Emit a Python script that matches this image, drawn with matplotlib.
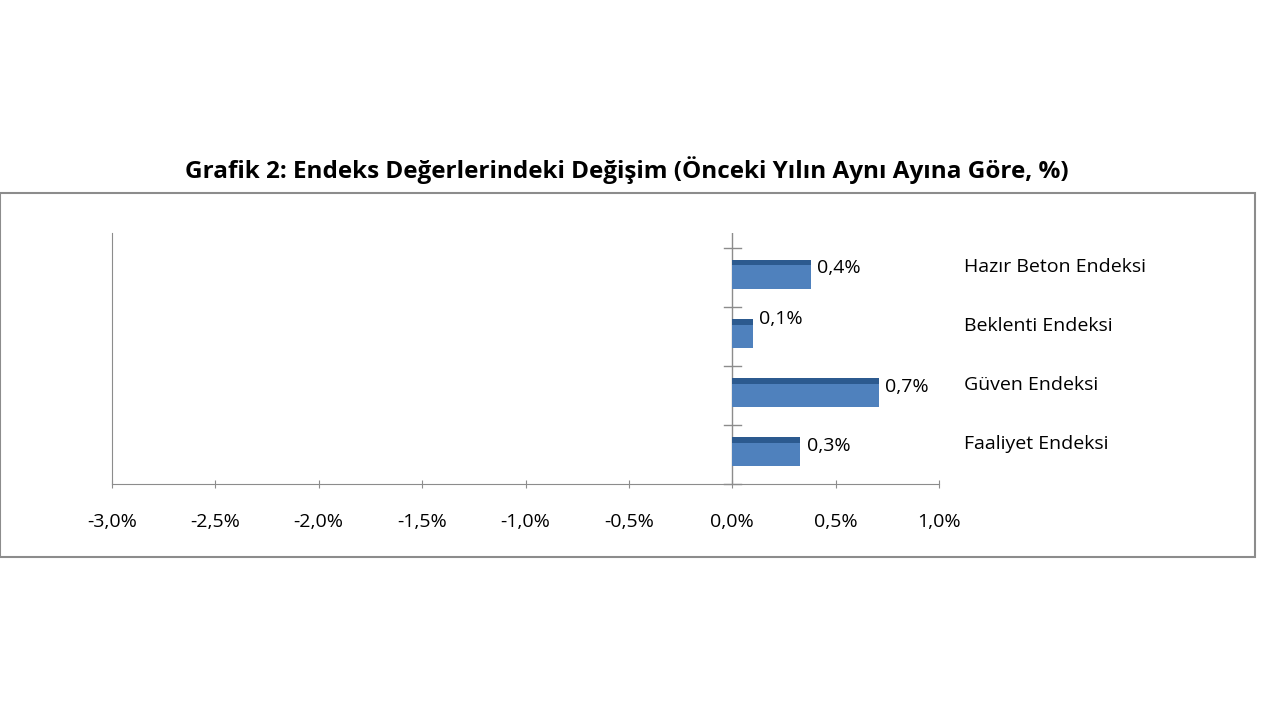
import matplotlib
matplotlib.use("Agg")
import matplotlib.pyplot as plt
from matplotlib.patches import Rectangle

categories = ["Faaliyet Endeksi", "Güven Endeksi", "Beklenti Endeksi", "Hazır Beton Endeksi"]
values = [0.33, 0.71, 0.10, 0.38]
labels = ["0,3%", "0,7%", "0,1%", "0,4%"]
xticks = [-3.0, -2.5, -2.0, -1.5, -1.0, -0.5, 0.0, 0.5, 1.0]
xticklabels = ["-3,0%", "-2,5%", "-2,0%", "-1,5%", "-1,0%", "-0,5%", "0,0%", "0,5%", "1,0%"]

plt.rcParams['font.family'] = ['Open Sans', 'DejaVu Sans']
fig = plt.figure(figsize=(12.8, 7.2), dpi=100)
fig.patches.append(Rectangle((0.0, 1 - 557/720), 1255/1280, (557-193)/720, transform=fig.transFigure,
                             fill=False, edgecolor='#8c8c8c', linewidth=1.5))
fig.text(627/1280, 1 - 170/720, "Grafik 2: Endeks Değerlerindeki Değişim (Önceki Yılın Aynı Ayına Göre, %)",
         ha='center', va='center', fontsize=17.5, fontweight='bold')

ax = fig.add_axes([112/1280, 1 - 484/720, (939-112)/1280, (484-233)/720])
y = list(range(len(categories)))
h = 0.5
ax.barh(y, values, height=h, color='#4f81bd', zorder=2)
ax.barh([yy + h/2 - 0.05 for yy in y], values, height=0.1, color='#2c5a8f', zorder=3)
for yy, v, lab, cat in zip(y, values, labels, categories):
    dy = 0.1 if v > 0.2 else 0.25
    ax.text(v + 0.03, yy + dy, lab, va='center', ha='left', fontsize=14)
    ax.text(1.12, yy + 0.12, cat, va='center', ha='left', fontsize=14)
ax.set_xlim(-3.0, 1.0)
ax.set_ylim(-0.55, 3.7)
ax.set_xticks(xticks)
ax.set_xticklabels(xticklabels, fontsize=14)
ax.set_yticks([])
for s in ['top', 'right']:
    ax.spines[s].set_visible(False)
for s in ['left', 'bottom']:
    ax.spines[s].set_color('#8c8c8c')
ax.tick_params(axis='x', length=6, color='#8c8c8c', direction='inout', pad=18)
ax.axvline(0, color='#8c8c8c', linewidth=1, zorder=1)
for t in [-0.55, 0.45, 1.45, 2.45, 3.45]:
    ax.plot([-0.04, 0.04], [t, t], color='#8c8c8c', linewidth=1, clip_on=False)
fig.savefig("out.png", dpi=100)
